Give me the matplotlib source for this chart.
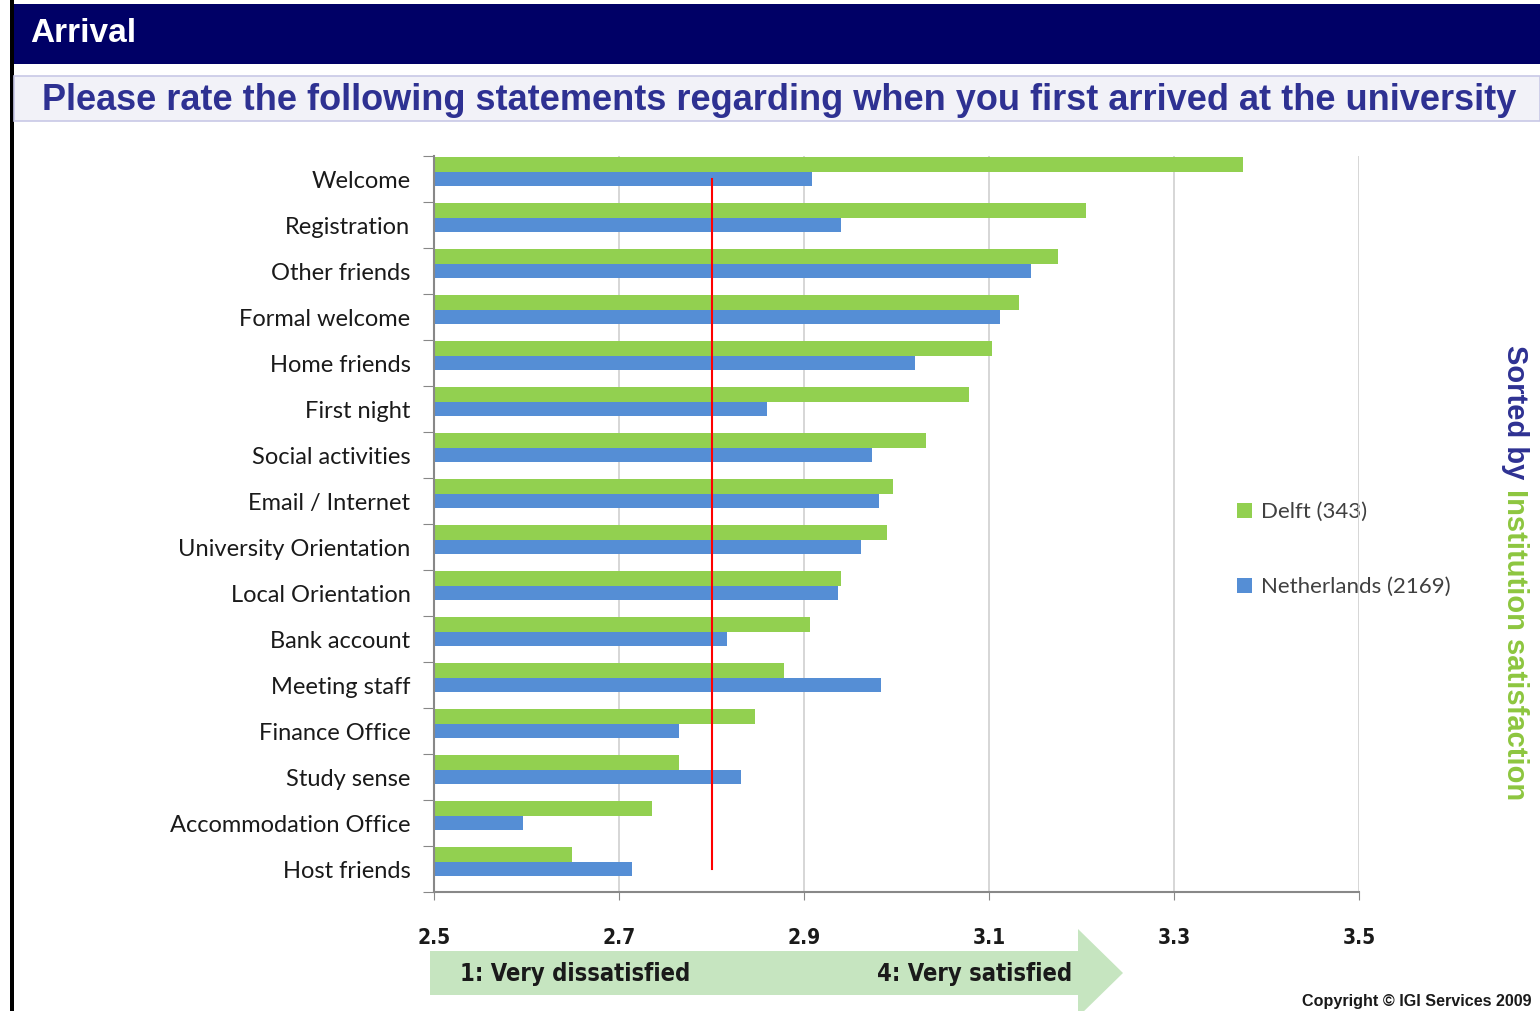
import matplotlib
matplotlib.use("Agg")
import matplotlib.pyplot as plt
from matplotlib.patches import Rectangle, Polygon
import numpy as np

categories = ["Welcome", "Registration", "Other friends", "Formal welcome", "Home friends",
              "First night", "Social activities", "Email / Internet", "University Orientation",
              "Local Orientation", "Bank account", "Meeting staff", "Finance Office",
              "Study sense", "Accommodation Office", "Host friends"]
delft = [3.375, 3.205, 3.175, 3.132, 3.103, 3.078, 3.032, 2.996, 2.990, 2.940,
         2.906, 2.878, 2.847, 2.765, 2.736, 2.649]
netherlands = [2.909, 2.940, 3.145, 3.112, 3.020, 2.860, 2.974, 2.981, 2.962, 2.937,
               2.817, 2.983, 2.765, 2.832, 2.596, 2.714]
xticks = [2.5, 2.7, 2.9, 3.1, 3.3, 3.5]
threshold = 2.8
series_names = ["Delft (343)", "Netherlands (2169)"]

W, H = 1540, 1012
fig = plt.figure(figsize=(W / 100, H / 100), dpi=100)
fig.patch.set_facecolor("white")

def fx(px):
    return px / W

def fy(py):
    return 1 - py / H

# background decorations
bg = fig.add_axes([0, 0, 1, 1])
bg.set_xlim(0, W)
bg.set_ylim(H, 0)
bg.axis("off")
bg.add_patch(Rectangle((14, 5), W - 14, 60, facecolor="#000066", edgecolor="none"))
bg.add_patch(Rectangle((10, 0), 4, H, facecolor="black", edgecolor="none"))
bg.add_patch(Rectangle((14, 77), W - 14, 45, facecolor="#f2f2f8", edgecolor="#c8c8e6", linewidth=1.2))
bg.text(30, 33, "Arrival", color="white", fontsize=24, fontweight="bold",
        family="Liberation Sans", va="center", ha="left")
bg.text(42, 100, "Please rate the following statements regarding when you first arrived at the university",
        color="#2e3192", fontsize=26, fontweight="bold", family="Liberation Sans",
        va="center", ha="left")

# arrow
arrow = Polygon([(430, 952), (1078, 952), (1078, 930), (1123, 974), (1078, 1018),
                 (1078, 996), (430, 996)], closed=True, facecolor="#c6e5c0", edgecolor="none")
bg.add_patch(arrow)
narrow = dict(family="DejaVu Sans", stretch="condensed", fontweight="bold")
bg.text(460, 974, "1: Very dissatisfied", fontsize=17, color="#1a1a1a",
        va="center", ha="left", **narrow)
bg.text(877, 974, "4: Very satisfied", fontsize=17, color="#1a1a1a",
        va="center", ha="left", **narrow)
bg.text(1532, 1002, "Copyright \u00a9 IGI Services 2009", fontsize=11.6, fontweight="bold",
        family="Liberation Sans", color="#1a1a1a", va="center", ha="right")

# vertical text
bg.text(1515, 345, "Sorted by ", color="#2e3192", fontsize=21, fontweight="bold",
        family="Liberation Sans", rotation=-90, va="top", ha="center")
bg.text(1515, 489, "Institution satisfaction", color="#8dc63f", fontsize=21, fontweight="bold",
        family="Liberation Sans", rotation=-90, va="top", ha="center")

# legend
green = "#92d050"
blue = "#558ed5"
bg.add_patch(Rectangle((1237, 504), 15, 15, facecolor=green, edgecolor="none"))
bg.add_patch(Rectangle((1237, 579), 15, 15, facecolor=blue, edgecolor="none"))
bg.text(1261, 512, series_names[0], fontsize=16, family="Lato", color="#404040", va="center")
bg.text(1261, 587, series_names[1], fontsize=16, family="Lato", color="#404040", va="center")

# main chart
ax = fig.add_axes([fx(434), fy(893), fx(925), (893 - 157) / H])
n = len(categories)
y = np.arange(n)
h = 0.315
ax.barh(y - h, [d - 2.5 for d in delft], left=2.5, height=h, color=green, zorder=2)
ax.barh(y, [v - 2.5 for v in netherlands], left=2.5, height=h, color=blue, zorder=2)
ax.plot([threshold, threshold], [0, n - 1], color="#ff0000", linewidth=1.5, zorder=3)

ax.set_xlim(2.5, 3.5)
ax.set_ylim(n - 0.5, -0.5)
ax.set_xticks(xticks)
ax.set_xticklabels([f"{t:.1f}" for t in xticks], fontsize=15, color="#1a1a1a", **narrow)
ax.tick_params(axis="x", length=6, color="#888888", pad=19)
ax.set_yticks(np.arange(n + 1) - 0.5)
ax.set_yticklabels([])
ax.set_yticks(y, minor=True)
ax.set_yticklabels(categories, minor=True, fontsize=17, family="Lato", color="#1a1a1a")
ax.tick_params(axis="y", which="major", length=8, color="#888888")
ax.tick_params(axis="y", which="minor", length=0, pad=17)
ax.grid(axis="x", color="#d0d0d0", linewidth=1.2, zorder=0)
ax.set_axisbelow(True)
for s in ["top", "right"]:
    ax.spines[s].set_visible(False)
for s in ["left", "bottom"]:
    ax.spines[s].set_color("#888888")
    ax.spines[s].set_linewidth(1.5)
ax.set_facecolor("none")

fig.savefig("out.png", dpi=100)
